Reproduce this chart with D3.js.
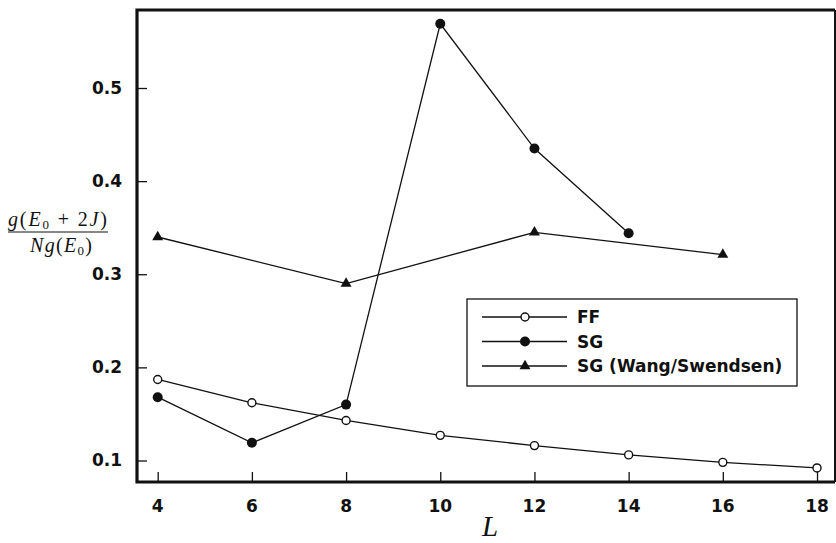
<!DOCTYPE html>
<html>
<head>
<meta charset="utf-8">
<script src="https://cdn.jsdelivr.net/npm/d3@7"></script>
<style>
  html, body { margin: 0; padding: 0; background: #fff; }
  svg { display: block; }
  .tick-label { font-family: "DejaVu Sans", "Liberation Sans", sans-serif; font-weight: bold; font-size: 17px; fill: #111; }
  .legend-label { font-family: "DejaVu Sans", "Liberation Sans", sans-serif; font-weight: bold; font-size: 17px; fill: #111; }
  .math { font-family: "Liberation Serif", "Times New Roman", serif; fill: #111; }
</style>
</head>
<body>
<svg id="chart" width="836" height="543"></svg>
<script>
// Lattice sizes and measured ratios g(E0+2J) / (N g(E0))
const lFF = [4, 6, 8, 10, 12, 14, 16, 18];
const ratioFF = [0.187, 0.162, 0.143, 0.127, 0.116, 0.106, 0.098, 0.092];

const lSG = [4, 6, 8, 10, 12, 14];
const ratioSG = [0.168, 0.119, 0.160, 0.569, 0.435, 0.344];

const lWS = [4, 8, 12, 16];
const ratioWS = [0.340, 0.290, 0.345, 0.321];

const xTicks = [4, 6, 8, 10, 12, 14, 16, 18];
const yTicks = [0.1, 0.2, 0.3, 0.4, 0.5];

const seriesNames = ["FF", "SG", "SG (Wang/Swendsen)"];

const svg = d3.select("#chart");
const plotLeft = 137, plotRight = 835, plotTop = 10, plotBottom = 482;

const x = d3.scaleLinear().domain([3.5604, 18.382]).range([plotLeft, plotRight]);
const y = d3.scaleLinear().domain([0.07691, 0.58376]).range([plotBottom, plotTop]);

const ink = "#111";

// Inward-pointing ticks on the bottom and left axes
const xAxis = d3.axisTop(x).tickValues(xTicks).tickSize(10).tickFormat("");
svg.append("g").attr("transform", `translate(0,${plotBottom})`).call(xAxis)
  .call(g => g.select(".domain").remove())
  .call(g => g.selectAll("line").attr("stroke", ink).attr("stroke-width", 1.3));

const yAxis = d3.axisRight(y).tickValues(yTicks).tickSize(10).tickFormat("");
svg.append("g").attr("transform", `translate(${plotLeft},0)`).call(yAxis)
  .call(g => g.select(".domain").remove())
  .call(g => g.selectAll("line").attr("stroke", ink).attr("stroke-width", 1.3));

// Tick labels
svg.append("g").selectAll("text").data(xTicks).join("text")
  .attr("class", "tick-label")
  .attr("x", d => x(d)).attr("y", 512)
  .attr("text-anchor", "middle")
  .text(d => d);

svg.append("g").selectAll("text").data(yTicks).join("text")
  .attr("class", "tick-label")
  .attr("x", 122).attr("y", d => y(d) + 6)
  .attr("text-anchor", "end")
  .text(d => d3.format(".1f")(d));

// Frame
svg.append("path")
  .attr("d", `M${plotRight},${plotTop} L${plotLeft},${plotTop} L${plotLeft},${plotBottom} L${plotRight},${plotBottom}`)
  .attr("fill", "none").attr("stroke", ink).attr("stroke-width", 3.2);
svg.append("line")
  .attr("x1", plotRight).attr("x2", plotRight).attr("y1", plotTop).attr("y2", plotBottom)
  .attr("stroke", ink).attr("stroke-width", 2);

// Series lines
const line = d3.line().x(d => x(d[0])).y(d => y(d[1]));
const ffPts = d3.zip(lFF, ratioFF);
const sgPts = d3.zip(lSG, ratioSG);
const wsPts = d3.zip(lWS, ratioWS);

[ffPts, sgPts, wsPts].forEach(pts => {
  svg.append("path").attr("d", line(pts))
    .attr("fill", "none").attr("stroke", ink).attr("stroke-width", 1.3);
});

const triangle = d3.symbol().type(d3.symbolTriangle).size(52);

function drawMarker(g, kind, cx, cy) {
  if (kind === 0) {
    g.append("circle").attr("cx", cx).attr("cy", cy).attr("r", 4)
      .attr("fill", "#fff").attr("stroke", ink).attr("stroke-width", 1.4);
  } else if (kind === 1) {
    g.append("circle").attr("cx", cx).attr("cy", cy).attr("r", 5)
      .attr("fill", ink);
  } else {
    g.append("path").attr("d", triangle())
      .attr("transform", `translate(${cx},${cy})`).attr("fill", ink);
  }
}

const marks = svg.append("g");
[ffPts, sgPts, wsPts].forEach((pts, k) => {
  pts.forEach(p => drawMarker(marks, k, x(p[0]), y(p[1])));
});

// Legend
const legend = svg.append("g");
legend.append("rect")
  .attr("x", 467).attr("y", 299).attr("width", 330).attr("height", 87)
  .attr("fill", "#fff").attr("stroke", ink).attr("stroke-width", 1.3);
seriesNames.forEach((name, i) => {
  const ly = 317 + i * 24.5;
  legend.append("line").attr("x1", 482).attr("x2", 567).attr("y1", ly).attr("y2", ly)
    .attr("stroke", ink).attr("stroke-width", 1.3);
  drawMarker(legend, i, 525, ly);
  legend.append("text").attr("class", "legend-label")
    .attr("x", 577).attr("y", ly + 6).text(name);
});

// Axis titles
svg.append("text").attr("class", "math")
  .attr("x", 490).attr("y", 536)
  .attr("text-anchor", "middle")
  .attr("font-size", 29).attr("font-style", "italic")
  .text("L");

const frac = svg.append("g").attr("class", "math").attr("font-size", 20);
const num = frac.append("text").attr("x", 8).attr("y", 226)
  .attr("textLength", 99).attr("lengthAdjust", "spacing");
num.append("tspan").attr("font-style", "italic").text("g");
num.append("tspan").text("(");
num.append("tspan").attr("font-style", "italic").text("E");
num.append("tspan").attr("font-size", 13).attr("dy", 3).text("0");
num.append("tspan").attr("dy", -3).text(" + 2");
num.append("tspan").attr("font-style", "italic").text("J");
num.append("tspan").text(")");

frac.append("line").attr("x1", 8).attr("x2", 108).attr("y1", 232).attr("y2", 232)
  .attr("stroke", ink).attr("stroke-width", 1.1);

const den = frac.append("text").attr("x", 30).attr("y", 252)
  .attr("textLength", 62).attr("lengthAdjust", "spacing");
den.append("tspan").attr("font-style", "italic").text("Ng");
den.append("tspan").text("(");
den.append("tspan").attr("font-style", "italic").text("E");
den.append("tspan").attr("font-size", 13).attr("dy", 3).text("0");
den.append("tspan").attr("dy", -3).text(")");
</script>
</body>
</html>
